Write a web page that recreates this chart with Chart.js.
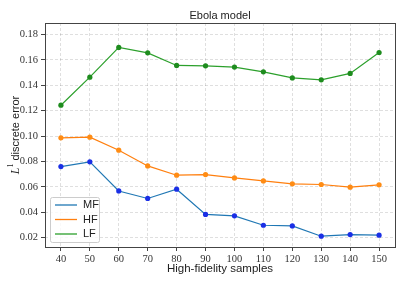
<!DOCTYPE html>
<html>
<head>
<meta charset="utf-8">
<script src="https://cdn.jsdelivr.net/npm/chart.js@4.4.1/dist/chart.umd.min.js"></script>
<style>
    html, body { margin: 0; padding: 0; background: #fff; }
    #wrap { width: 407px; height: 285px; }
</style>
</head>
<body>
<div id="wrap"><canvas id="ebola"></canvas></div>
<script>
const samples = [40, 50, 60, 70, 80, 90, 100, 110, 120, 130, 140, 150];
const mfError = [0.0760, 0.0797, 0.0568, 0.0509, 0.0582, 0.0383, 0.0372, 0.0298, 0.0293, 0.0212, 0.0225, 0.0220];
const hfError = [0.0986, 0.0991, 0.0889, 0.0765, 0.0692, 0.0697, 0.0671, 0.0647, 0.0624, 0.0619, 0.0598, 0.0616];
const lfError = [0.1243, 0.1464, 0.1698, 0.1655, 0.1556, 0.1553, 0.1543, 0.1506, 0.1458, 0.1443, 0.1493, 0.1658];
const yTicks = [0.02, 0.04, 0.06, 0.08, 0.10, 0.12, 0.14, 0.16, 0.18];

function toPoints(values) {
    return values.map((v, i) => ({x: samples[i], y: v}));
}

function makeSet(label, values, lineColor, pointColor) {
    return {
        label: label,
        data: toPoints(values),
        borderColor: lineColor,
        backgroundColor: pointColor,
        pointBackgroundColor: pointColor,
        pointBorderColor: pointColor,
        borderWidth: 1.2,
        pointRadius: 2.6,
        pointBorderWidth: 0,
        tension: 0
    };
}

// frame, title, y label with L^1 and the legend box
const decorations = {
    id: 'decorations',
    afterDraw(chart) {
        const ctx = chart.ctx;
        const a = chart.chartArea;
        ctx.save();

        ctx.strokeStyle = '#444';
        ctx.lineWidth = 1;
        const l = Math.round(a.left) + 0.5, t = Math.round(a.top) + 0.5;
        const r = Math.round(a.right) + 0.5, b = Math.round(a.bottom) + 0.5;
        ctx.strokeRect(l, t, r - l, b - t);

        ctx.fillStyle = '#222';
        ctx.font = '11px "Liberation Sans"';
        ctx.textAlign = 'center';
        ctx.textBaseline = 'middle';
        ctx.fillText('Ebola model', (a.left + a.right) / 2, 15.5);

        // y axis label
        ctx.save();
        ctx.translate(16, (a.top + a.bottom) / 2);
        ctx.rotate(-Math.PI / 2);
        ctx.textAlign = 'left';
        ctx.textBaseline = 'middle';
        const fL = 'italic 12px "Liberation Serif"';
        const f1 = '8px "Liberation Serif"';
        const fT = '11px "Liberation Sans"';
        ctx.font = fL; const wL = ctx.measureText('L').width;
        ctx.font = f1; const w1 = ctx.measureText('1').width;
        ctx.font = fT; const wT = ctx.measureText(' discrete error').width;
        let x = -(wL + w1 + wT) / 2;
        ctx.font = fL; ctx.fillText('L', x, 0); x += wL;
        ctx.font = f1; ctx.fillText('1', x, -5); x += w1;
        ctx.font = fT; ctx.fillText(' discrete error', x, 0);
        ctx.restore();

        // legend
        const bx = a.left + 5, by = a.bottom - 50, bw = 49, bh = 45;
        ctx.fillStyle = 'rgba(255,255,255,0.8)';
        ctx.strokeStyle = '#ccc';
        ctx.lineWidth = 1;
        ctx.beginPath();
        ctx.roundRect(bx + 0.5, by + 0.5, bw, bh, 2);
        ctx.fill();
        ctx.stroke();
        ctx.font = '11px "Liberation Sans"';
        ctx.textAlign = 'left';
        ctx.textBaseline = 'middle';
        chart.data.datasets.forEach((ds, i) => {
            const yy = by + 8 + i * 14.5;
            ctx.strokeStyle = ds.borderColor;
            ctx.lineWidth = 1.3;
            ctx.beginPath();
            ctx.moveTo(bx + 5, yy);
            ctx.lineTo(bx + 27, yy);
            ctx.stroke();
            ctx.fillStyle = '#222';
            ctx.fillText(ds.label, bx + 33, yy);
        });
        ctx.restore();
    }
};

function drawChart() {
    const ctx = document.getElementById('ebola');
    new Chart(ctx, {
        type: 'line',
        data: {
            datasets: [
                makeSet('MF', mfError, '#1f77b4', '#1a2fe6'),
                makeSet('HF', hfError, '#ff7f0e', '#ff8c14'),
                makeSet('LF', lfError, '#2ca02c', '#1e8c1e')
            ]
        },
        options: {
            responsive: true,
            maintainAspectRatio: false,
            animation: false,
            layout: { padding: { left: 0, right: 12, top: 23, bottom: 0 } },
            plugins: {
                legend: { display: false },
                title: { display: false },
                tooltip: { enabled: false }
            },
            scales: {
                x: {
                    type: 'linear',
                    min: 34.5,
                    max: 155.5,
                    afterBuildTicks: scale => { scale.ticks = samples.map(v => ({value: v})); },
                    afterFit: scale => { scale.height = 38; },
                    grid: {
                        color: 'rgba(0,0,0,0.16)',
                        lineWidth: 0.8,
                        tickColor: '#444',
                        tickLength: 4,
                        tickWidth: 1
                    },
                    border: { display: false, dash: [3, 2] },
                    ticks: {
                        padding: 2,
                        color: '#333',
                        maxRotation: 0,
                        font: { family: '"Liberation Serif"', size: 10.5 },
                        callback: v => String(v)
                    },
                    title: {
                        display: true,
                        text: 'High-fidelity samples',
                        color: '#222',
                        font: { family: '"Liberation Sans"', size: 11.5 },
                        padding: { top: 0, bottom: 9 }
                    }
                },
                y: {
                    min: 0.0127,
                    max: 0.189,
                    afterBuildTicks: scale => { scale.ticks = yTicks.map(v => ({value: v})); },
                    afterFit: scale => { scale.width = 45; },
                    grid: {
                        color: 'rgba(0,0,0,0.16)',
                        lineWidth: 0.8,
                        tickColor: '#444',
                        tickLength: 4,
                        tickWidth: 1
                    },
                    border: { display: false, dash: [3, 2] },
                    ticks: {
                        padding: 3,
                        color: '#333',
                        font: { family: '"Liberation Serif"', size: 10.5 },
                        callback: v => v.toFixed(2)
                    }
                }
            }
        },
        plugins: [decorations]
    });
}

window.addEventListener('load', evt => drawChart());
</script>
</body>
</html>
